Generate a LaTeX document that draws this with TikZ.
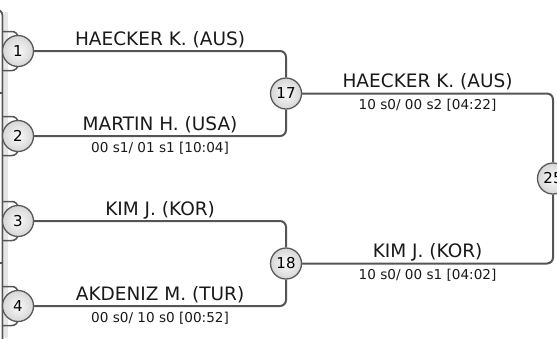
\documentclass[tikz,border=0pt]{standalone}
\usepackage{fontspec}
\setmainfont{DejaVu Sans}
\usetikzlibrary{calc}
\definecolor{lc}{HTML}{555555}
\definecolor{bc}{HTML}{5A5A5A}
\definecolor{strip}{HTML}{E6E6E6}
\tikzset{
  conn/.style={draw=lc, line width=2bp, rounded corners=6bp},
  brk/.style={draw=lc, line width=1.5bp, rounded corners=6bp},
  seedc/.style={circle, draw=bc, line width=1.3bp, minimum size=31bp, inner sep=0pt,
    inner color=white!96!gray, outer color=black!16, font=\fontsize{15bp}{15bp}\selectfont},
  plname/.style={anchor=base, inner sep=0pt, font=\fontsize{18.5bp}{20bp}\selectfont, text=black!90},
  plscore/.style={anchor=base, inner sep=0pt, font=\fontsize{13.6bp}{15bp}\selectfont, text=black!90}
}
\begin{document}
\begin{tikzpicture}[x=1bp, y=-1bp]
\useasboundingbox (0,0) rectangle (557,338);
% left strip
\fill[strip] (3.5,12) rectangle (8,338);
\draw[conn, line width=1.8bp] (-8,9.5) -| (2.5,345);
\draw[lc, line width=1.5bp] (0,93) -- (2.5,93);
\draw[lc, line width=1.5bp] (0,263) -- (2.5,263);
% brackets behind first round circles
\foreach \y in {51,136,221,306}{
  \draw[brk] (2.5,\y-19.5) -| (18,\y) |- (2.5,\y+19.5);
}
% seeds
\node[seedc] (c1) at (18,51) {1};
\node[seedc] (c2) at (18,136) {2};
\node[seedc] (c3) at (18,221) {3};
\node[seedc] (c4) at (18,306) {4};
\node[seedc] (c17) at (286,93.5) {17};
\node[seedc] (c18) at (286,263.5) {18};
% connectors
\draw[conn] (c1.east) -| (c17.north);
\draw[conn] (c2.east) -| (c17.south);
\draw[conn] (c3.east) -| (c18.north);
\draw[conn] (c4.east) -| (c18.south);
\node[seedc] (c25) at (553,178.5) {25};
\draw[conn] (c17.east) -| (c25.north);
\draw[conn] (c18.east) -| (c25.south);
% label anchors
\coordinate (m1) at ($(c1.east)!0.5!(c1-|c17)$);
\coordinate (m2) at ($(c2.east)!0.5!(c2-|c17)$);
\coordinate (m3) at ($(c3.east)!0.5!(c3-|c18)$);
\coordinate (m4) at ($(c4.east)!0.5!(c4-|c18)$);
\coordinate (m17) at ($(c17.east)!0.5!(c17-|c25)$);
\coordinate (m18) at ($(c18.east)!0.5!(c18-|c25)$);
% names
\node[plname] (n1) at ($(m1)+(0,-6)$) {HAECKER K. (AUS)};
\node[plname] (n2) at ($(m2)+(0,-6)$) {MARTIN H. (USA)};
\node[plname] (n3) at ($(m3)+(0,-6)$) {KIM J. (KOR)};
\node[plname] (n4) at ($(m4)+(0,-6)$) {AKDENIZ M. (TUR)};
\node[plname] (n17) at ($(m17)+(0,-6)$) {HAECKER K. (AUS)};
\node[plname] (n18) at ($(m18)+(0,-6)$) {KIM J. (KOR)};
% scores
\node[plscore] (s2) at ($(m2)+(0,16)$) {00 s1/ 01 s1 [10:04]};
\node[plscore] (s4) at ($(m4)+(0,16)$) {00 s0/ 10 s0 [00:52]};
\node[plscore] (s17) at ($(m17)+(0,16)$) {10 s0/ 00 s2 [04:22]};
\node[plscore] (s18) at ($(m18)+(0,16)$) {10 s0/ 00 s1 [04:02]};
\end{tikzpicture}
\end{document}
